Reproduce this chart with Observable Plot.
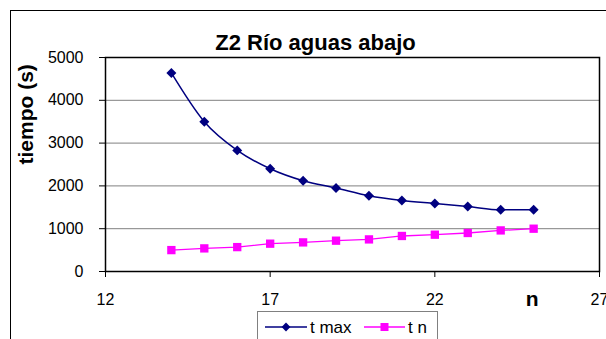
<!DOCTYPE html>
<html>
<head>
<meta charset="utf-8">
<script src="https://cdn.jsdelivr.net/npm/d3@7"></script>
<script src="https://cdn.jsdelivr.net/npm/@observablehq/plot@0.6"></script>
<style>
  html, body { margin: 0; padding: 0; background: #fff; overflow: hidden; }
  #wrap { position: relative; width: 606px; height: 339px; overflow: hidden; }
  #border { position: absolute; left: 10px; top: 10px; width: 700px; height: 400px;
            border: 1px solid #000; box-sizing: border-box; pointer-events: none; }
  #chart { position: absolute; left: 0; top: 0; }
</style>
</head>
<body>
<div id="wrap"><div id="border"></div><div id="chart"></div></div>
<script>
// Number of nodes n and the times measured for each
const nValues = [14, 15, 16, 17, 18, 19, 20, 21, 22, 23, 24, 25];
const tMax    = [4640, 3500, 2830, 2400, 2120, 1950, 1770, 1660, 1590, 1520, 1440, 1440];
const tN      = [500, 540, 570, 650, 680, 720, 750, 830, 860, 900, 960, 1000];
const yTicks  = [0, 1000, 2000, 3000, 4000, 5000];
const gridTicks = [1000, 2000, 3000, 4000];
const xTicks  = [12, 17, 22, 27];
const seriesNames = ["t max", "t n"];
const seriesColors = ["#000080", "#FF00FF"];

const rowsMax = nValues.map((n, i) => ({n, t: tMax[i]}));
const rowsN = nValues.map((n, i) => ({n, t: tN[i]}));

const font = "'Liberation Sans', Arial, sans-serif";
const plain = d => String(d);

const plot = Plot.plot({
  width: 606,
  height: 339,
  marginLeft: 105,
  marginTop: 57,
  marginRight: 7,
  marginBottom: 68,
  style: {fontFamily: font, fontSize: "16px", color: "#000", background: "transparent", overflow: "visible"},
  x: {domain: [12, 27], label: null},
  y: {domain: [0, 5000], label: null},
  marks: [
    Plot.ruleY(gridTicks, {stroke: "#808080", strokeWidth: 1}),
    Plot.frame({stroke: "#000", strokeWidth: 1.5}),
    Plot.axisX({ticks: xTicks, tickFormat: plain, tickSize: 6, tickPadding: 16, label: null, fontSize: 16}),
    Plot.axisY({ticks: yTicks, tickFormat: plain, tickSize: 6, tickPadding: 16, label: null, fontSize: 16}),
    Plot.line(rowsN, {x: "n", y: "t", stroke: seriesColors[1], strokeWidth: 1.3}),
    Plot.dot(rowsN, {x: "n", y: "t", symbol: "square", r: 4.7, fill: seriesColors[1], stroke: "none"}),
    Plot.line(rowsMax, {x: "n", y: "t", stroke: seriesColors[0], strokeWidth: 1.5, curve: "monotone-x"}),
    Plot.dot(rowsMax, {x: "n", y: "t", symbol: "diamond2", r: 4.5, fill: seriesColors[0], stroke: "none"}),
    // chart title
    Plot.text(["Z2 Río aguas abajo"], {frameAnchor: "top", dx: -37, dy: -23.5,
      fontSize: 22, fontWeight: "bold", fill: "#000"}),
    // axis titles
    Plot.text(["tiempo (s)"], {frameAnchor: "left", dx: -79, rotate: -90,
      fontSize: 21, fontWeight: "bold", fill: "#000"}),
    Plot.text(["n"], {frameAnchor: "bottom-right", dx: -61, dy: 34,
      fontSize: 21, fontWeight: "bold", fill: "#000"})
  ]
});

document.getElementById("chart").appendChild(plot);

// Legend box below the plot area
const svg = d3.select(plot);
const lg = svg.append("g").attr("font-family", font).attr("font-size", 17).attr("text-anchor", "start");
lg.append("rect").attr("x", 257.5).attr("y", 311.5).attr("width", 180).attr("height", 40)
  .attr("fill", "#fff").attr("stroke", "#808080").attr("stroke-width", 1);
const items = [
  {x0: 265, x1: 307, tx: 310, symbol: d3.symbolDiamond2, size: 50},
  {x0: 364, x1: 405, tx: 408, symbol: d3.symbolSquare, size: 64}
];
const ly = 327;
items.forEach((it, i) => {
  lg.append("line").attr("x1", it.x0).attr("x2", it.x1).attr("y1", ly).attr("y2", ly)
    .attr("stroke", seriesColors[i]).attr("stroke-width", 1.5);
  lg.append("path").attr("d", d3.symbol(it.symbol, it.size)())
    .attr("transform", `translate(${(it.x0 + it.x1) / 2},${ly})`).attr("fill", seriesColors[i]);
  lg.append("text").attr("x", it.tx).attr("y", ly).attr("dy", "0.36em")
    .attr("fill", "#000").text(seriesNames[i]);
});
</script>
</body>
</html>
